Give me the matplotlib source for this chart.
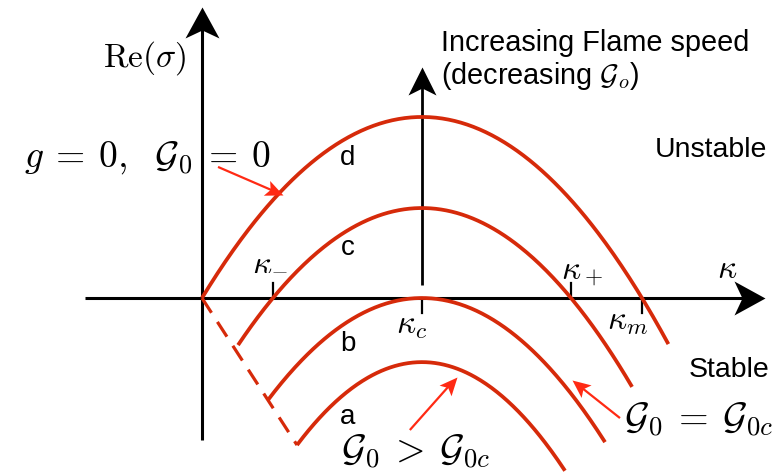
import numpy as np
import matplotlib
matplotlib.use("Agg")
import matplotlib.pyplot as plt
from matplotlib.markers import MarkerStyle
from matplotlib.path import Path
from matplotlib.transforms import Affine2D

plt.rcParams["mathtext.fontset"] = "cm"
plt.rcParams["font.family"] = ["Liberation Sans", "DejaVu Sans"]

# Schematic growth-rate curves Re(sigma) = peak - width * (kappa - kappa_c)^2
curve_names = ["d", "c", "b", "a"]
kappa_c = 1.0
peak_growth = [1.0, 0.497, 0.0, -0.354]
curvature = [1.0, 1.083, 1.15, 1.42]
kappa_start = [0.0, 0.164, 0.30, 0.432]
kappa_end = [2.12, 1.955, 1.832, 1.65]

RED = "#d62a0a"
ARROW_RED = "#ff2a14"

fig = plt.figure(figsize=(7.83, 4.76), dpi=100)
ax = fig.add_axes([0, 0, 1, 1])
ax.set_xlim(-0.918, 2.641)
ax.set_ylim(-0.983, 1.646)
ax.axis("off")


def growth(i, k):
    return peak_growth[i] - curvature[i] * (k - kappa_c) ** 2


def arrow(start, tip, color, lw, head_len, half_w, notch, zorder=2):
    """Line with a notched (stealth) head; head sizes are in pixels."""
    p0 = ax.transData.transform(start)
    p1 = ax.transData.transform(tip)
    d = p1 - p0
    theta = np.arctan2(d[1], d[0])
    u = d / np.hypot(*d)
    end = ax.transData.inverted().transform(p1 - u * (head_len - notch) * 0.9)
    ax.plot([start[0], end[0]], [start[1], end[1]], color=color, lw=lw,
            solid_capstyle="butt", zorder=zorder)
    verts = [(0, 0), (-head_len, half_w), (-(head_len - notch), 0),
             (-head_len, -half_w), (0, 0)]
    head = Path(verts, [Path.MOVETO, Path.LINETO, Path.LINETO, Path.LINETO, Path.CLOSEPOLY])
    style = MarkerStyle(head, transform=Affine2D().rotate(theta))
    size = 2 * max(head_len, half_w) * 72 / fig.dpi
    ax.plot([tip[0]], [tip[1]], marker=style, markersize=size, color=color,
            markeredgewidth=0, linestyle="none", zorder=zorder)


# coordinate axes
arrow((-0.532, 0), (2.559, 0), "black", 2.2, 31, 17, 8)
arrow((0, -0.785), (0, 1.608), "black", 2.2, 31, 17, 8)

# growth-rate curves
for i, name in enumerate(curve_names):
    k = np.linspace(kappa_start[i], kappa_end[i], 300)
    ax.plot(k, growth(i, k), color=RED, lw=2.7, solid_capstyle="butt", zorder=3)

# locus of the curve end points
ends_k = [kappa_start[0], kappa_start[3]]
ends_s = [growth(0, kappa_start[0]), growth(3, kappa_start[3])]
ax.plot(ends_k, ends_s, color=RED, lw=2.3, dashes=(5.5, 3.4), zorder=3)

# characteristic wavenumbers and their tick marks
half_c = np.sqrt(peak_growth[1] / curvature[1])
k_minus, k_plus = kappa_c - half_c, kappa_c + half_c
k_m = kappa_c + np.sqrt(peak_growth[0] / curvature[0])
tick = 0.085
for kk, up in [(k_minus, True), (k_plus, True), (kappa_c, False), (k_m, False)]:
    ax.plot([kk, kk], [0, tick] if up else [0, -tick], color="black", lw=1.6, zorder=2)

fs_k = 24
ax.text(0.309, 0.205, r"$\kappa_{\minus}$", fontsize=fs_k, ha="center", va="center", zorder=5)
ax.text(1.727, 0.140, r"$\kappa_+$", fontsize=fs_k, ha="center", va="center", zorder=5)
ax.text(0.955, -0.150, r"$\kappa_c$", fontsize=fs_k, ha="center", va="center", zorder=5)
ax.text(1.936, -0.130, r"$\kappa_m$", fontsize=fs_k, ha="center", va="center", zorder=5)
ax.text(2.386, 0.160, r"$\kappa$", fontsize=fs_k, ha="center", va="center", zorder=5)

ax.text(-0.259, 1.326, r"$\mathrm{Re}(\sigma)$", fontsize=24, ha="center", va="center")

# curve labels
for name, s in zip(curve_names, [0.775, 0.275, -0.255, -0.655]):
    ax.text(0.664, s, name, fontsize=20, ha="center", va="center")

# flame-speed trend arrow
arrow((kappa_c, 0.072), (kappa_c, 1.276), "black", 2.0, 28, 14, 7)
ax.text(1.085, 1.409, "Increasing Flame speed", fontsize=20.8, ha="left", va="center")
ax.text(1.085, 1.225, r"(decreasing $\mathcal{G}_o$)", fontsize=20.8, ha="left", va="center")

ax.text(2.314, 0.818, "Unstable", fontsize=20.5, ha="center", va="center")
ax.text(2.395, -0.398, "Stable", fontsize=20.5, ha="center", va="center")

# annotated cases
ax.text(-0.25, 0.775, r"$g\:=\:0,\;\ \mathcal{G}_0\:=\:0$", fontsize=27, ha="center", va="center")
arrow((0.073, 0.724), (0.368, 0.569), ARROW_RED, 1.6, 18, 8, 4, zorder=4)

ax.text(2.259, -0.674, r"$\mathcal{G}_0\:=\:\mathcal{G}_{0c}$", fontsize=27.5, ha="center", va="center")
arrow((1.90, -0.663), (1.682, -0.453), ARROW_RED, 1.6, 18, 8, 4, zorder=4)

ax.text(0.973, -0.851, r"$\mathcal{G}_0\:>\:\mathcal{G}_{0c}$", fontsize=27.5, ha="center", va="center")
arrow((0.945, -0.729), (1.159, -0.436), ARROW_RED, 1.6, 18, 8, 4, zorder=4)

fig.savefig("out.png", dpi=100)
